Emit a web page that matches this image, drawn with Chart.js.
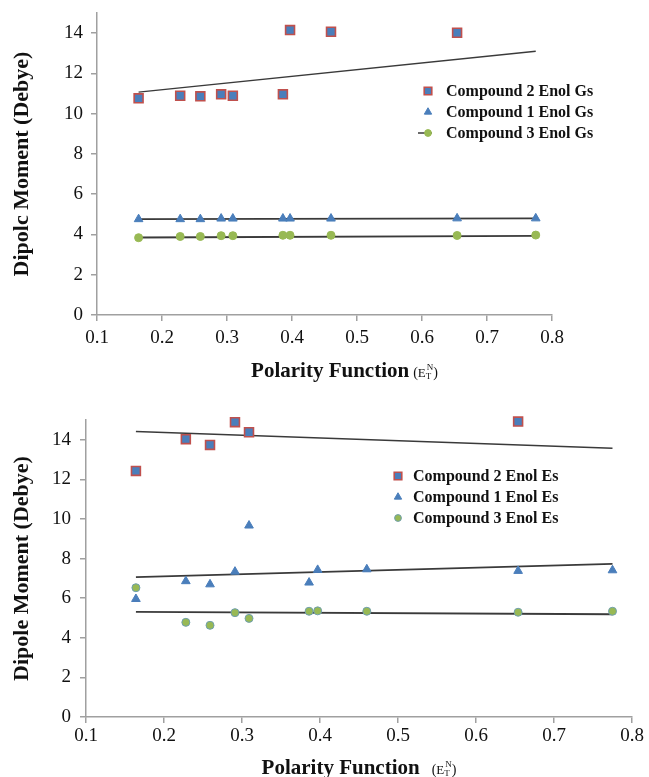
<!DOCTYPE html>
<html><head><meta charset="utf-8">
<script src="https://cdn.jsdelivr.net/npm/chart.js@4.4.1/dist/chart.umd.min.js"></script>
<style>
html,body{margin:0;padding:0;background:#fff;overflow:hidden;}
#w1{position:absolute;left:0;top:0;width:649px;height:388px;}
#w2{position:absolute;left:0;top:388px;width:649px;height:389px;}
</style></head><body>
<div id="w1"><canvas id="c1"></canvas></div>
<div id="w2"><canvas id="c2"></canvas></div>
<script>
// ---- data ----
const solventPolarity = [0.164, 0.228, 0.259, 0.291, 0.309, 0.386, 0.397, 0.460, 0.654, 0.775];
const gsCompound2 = [10.76, 10.89, 10.86, 10.96, 10.89, 10.96, 14.15, 14.07, 14.02, null];
const gsCompound1 = [4.76, 4.76, 4.76, 4.79, 4.79, 4.79, 4.79, 4.79, 4.80, 4.80];
const gsCompound3 = [3.84, 3.90, 3.90, 3.94, 3.94, 3.96, 3.96, 3.96, 3.95, 3.97];
const esCompound2 = [12.43, 14.03, 13.74, 14.89, 14.38, null, null, null, 14.92, null];
const esCompound1 = [5.96, 6.86, 6.70, 7.34, 9.67, 6.79, 7.43, 7.46, 7.38, 7.41];
const esCompound3 = [6.53, 4.78, 4.63, 5.27, 4.98, 5.34, 5.36, 5.34, 5.29, 5.34];
const trendEnds = [0.164, 0.775];
const gsTrend2 = [11.07, 13.10];
const gsTrend1 = [4.76, 4.80];
const gsTrend3 = [3.85, 3.93];
const esTrend2 = [14.42, 13.57];
const esTrend1 = [7.06, 7.73];
const esTrend3 = [5.31, 5.19];
const xTickValues = [0.1, 0.2, 0.3, 0.4, 0.5, 0.6, 0.7, 0.8];
const yTickValues = [0, 2, 4, 6, 8, 10, 12, 14];
const gsLabels = ['Compound 2 Enol Gs', 'Compound 1 Enol Gs', 'Compound 3 Enol Gs'];
const esLabels = ['Compound 2 Enol Es', 'Compound 1 Enol Es', 'Compound 3 Enol Es'];
const yTitleTop = 'Dipolc Moment (Debye)';
const yTitleBottom = 'Dipole Moment (Debye)';
const xTitleMain = 'Polarity Function';

// ---- helpers ----
const BLUE = '#4a7ebb', RED = '#c0504d', GREEN = '#98b954', TREND = '#3a3a3a', AXIS = '#a0a0a0';
const pts = (xs, ys) => xs.map((x, i) => ({x: x, y: ys[i]})).filter(p => p.y !== null);

const legendPlugin = {
  id: 'customLegend',
  afterDraw(chart, args, o) {
    const ctx = chart.ctx;
    ctx.save();
    ctx.font = 'bold ' + o.size + 'px "Liberation Serif"';
    ctx.fillStyle = '#111';
    ctx.textBaseline = 'middle';
    let row = 0;
    chart.data.datasets.forEach(ds => {
      if (!ds.legendShow) return;
      const y = o.y0 + row * o.dy;
      if (ds.legendLine) {
        ctx.strokeStyle = TREND; ctx.lineWidth = 1.5;
        ctx.beginPath(); ctx.moveTo(o.mx - 10, y); ctx.lineTo(o.mx + 4, y); ctx.stroke();
      }
      ctx.fillStyle = ds.backgroundColor; ctx.strokeStyle = ds.borderColor; ctx.lineWidth = ds.borderWidth;
      Chart.helpers.drawPoint(ctx, {pointStyle: ds.pointStyle, radius: ds.pointRadius * 0.85, borderWidth: ds.borderWidth, rotation: 0}, o.mx, y);
      ctx.fillStyle = '#111';
      ctx.fillText(ds.label, o.tx, y + 1);
      row++;
    });
    ctx.restore();
  }
};

const xTitlePlugin = {
  id: 'xTitle',
  afterDraw(chart, args, o) {
    const ctx = chart.ctx, ca = chart.chartArea;
    ctx.save();
    ctx.fillStyle = '#111';
    ctx.textBaseline = 'alphabetic';
    const fMain = 'bold ' + o.size + 'px "Liberation Serif"';
    const fPar = '14px "Liberation Serif"';
    const fE = '13px "Liberation Serif"';
    const fSm = '9px "Liberation Serif"';
    ctx.font = fMain; const wMain = ctx.measureText(xTitleMain).width;
    ctx.font = fPar; const wPar = ctx.measureText('(').width;
    ctx.font = fE; const wE = ctx.measureText('E').width;
    ctx.font = fSm; const wT = ctx.measureText('T').width, wN = ctx.measureText('N').width;
    const total = wMain + o.gap + wPar * 2 + wE + Math.max(wT, wN) + 1;
    let x = (ca.left + ca.right) / 2 + o.dx - total / 2;
    const b = o.baseline;
    ctx.font = fMain; ctx.fillText(xTitleMain, x, b); x += wMain + o.gap;
    ctx.font = fPar; ctx.fillText('(', x, b); x += wPar;
    ctx.font = fE; ctx.fillText('E', x, b); x += wE;
    ctx.font = fSm; ctx.fillText('T', x, b + 2); ctx.fillText('N', x + 1, b - 7); x += Math.max(wT, wN) + 1;
    ctx.font = fPar; ctx.fillText(')', x, b);
    ctx.restore();
  }
};

function makeChart(id, c) {
  const datasets = [
    {label: c.labels[0], data: pts(solventPolarity, c.s2), pointStyle: 'rect', pointRadius: 6.3, backgroundColor: BLUE, borderColor: RED, borderWidth: 1.6, legendShow: true, clip: false},
    {label: c.labels[1], data: pts(solventPolarity, c.s1), pointStyle: 'triangle', pointRadius: 5, backgroundColor: BLUE, borderColor: BLUE, borderWidth: 1, legendShow: true, clip: false},
    {label: c.labels[2], data: pts(solventPolarity, c.s3), pointStyle: 'circle', pointRadius: 4, backgroundColor: GREEN, borderColor: c.circBorder, borderWidth: 1, legendShow: true, legendLine: c.line3, clip: false},
    {type: 'line', label: 'trend2', data: pts(trendEnds, c.t2), showLine: true, pointRadius: 0, borderColor: TREND, borderWidth: 1.5, fill: false},
    {type: 'line', label: 'trend1', data: pts(trendEnds, c.t1), showLine: true, pointRadius: 0, borderColor: TREND, borderWidth: 1.8, fill: false},
    {type: 'line', label: 'trend3', data: pts(trendEnds, c.t3), showLine: true, pointRadius: 0, borderColor: TREND, borderWidth: 1.8, fill: false}
  ];
  return new Chart(document.getElementById(id), {
    type: 'scatter',
    data: {datasets: datasets},
    options: {
      responsive: true, maintainAspectRatio: false, animation: false,
      layout: {padding: {top: c.padTop, right: c.padRight, left: 0, bottom: 0}},
      plugins: {
        legend: {display: false}, tooltip: {enabled: false},
        customLegend: c.legend,
        xTitle: c.xTitle
      },
      scales: {
        x: {
          type: 'linear', min: 0.1, max: 0.8,
          afterBuildTicks: s => { s.ticks = xTickValues.map(v => ({value: v})); },
          afterFit: s => { s.height = c.xH; s.paddingLeft = 0; s.paddingRight = 0; },
          ticks: {color: '#111', padding: c.xTickPad, maxRotation: 0, autoSkip: false,
                  font: {family: 'Liberation Serif', size: c.tickSize},
                  callback: v => Number(v).toFixed(1)},
          grid: {drawOnChartArea: false, drawTicks: true, tickLength: 6, color: AXIS, lineWidth: 1.5},
          border: {color: AXIS, width: 1.5}
        },
        y: {
          type: 'linear', min: 0, max: 15,
          afterBuildTicks: s => { s.ticks = yTickValues.map(v => ({value: v})); },
          afterFit: s => { s.width = c.yW; s.paddingTop = 0; s.paddingBottom = 0; },
          ticks: {color: '#111', padding: c.yTickPad, autoSkip: false,
                  font: {family: 'Liberation Serif', size: c.tickSize}},
          grid: {drawOnChartArea: false, drawTicks: true, tickLength: 6, color: AXIS, lineWidth: 1.5},
          border: {color: AXIS, width: 1.5},
          title: {display: true, text: c.yTitle, color: '#111', padding: {top: 9, bottom: 0},
                  font: {family: 'Liberation Serif', size: 22, weight: 'bold'}}
        }
      }
    },
    plugins: [legendPlugin, xTitlePlugin]
  });
}

makeChart('c1', {
  labels: gsLabels, s2: gsCompound2, s1: gsCompound1, s3: gsCompound3,
  t2: gsTrend2, t1: gsTrend1, t3: gsTrend3, circBorder: GREEN, line3: true,
  padTop: 13, padRight: 97, xH: 73, yW: 97, tickSize: 19, xTickPad: 6, yTickPad: 8,
  yTitle: yTitleTop,
  legend: {mx: 428, tx: 446, y0: 91, dy: 21, size: 16},
  xTitle: {size: 21, gap: 4, dx: 20, baseline: 377}
});
makeChart('c2', {
  labels: esLabels, s2: esCompound2, s1: esCompound1, s3: esCompound3,
  t2: esTrend2, t1: esTrend1, t3: esTrend3, circBorder: '#6f9fae', line3: false,
  padTop: 32, padRight: 17, xH: 60, yW: 86, tickSize: 19, xTickPad: 2, yTickPad: 9,
  yTitle: yTitleBottom,
  legend: {mx: 398, tx: 413, y0: 88, dy: 21, size: 16},
  xTitle: {size: 21, gap: 12, dx: 0, baseline: 386}
});
</script>
</body></html>
